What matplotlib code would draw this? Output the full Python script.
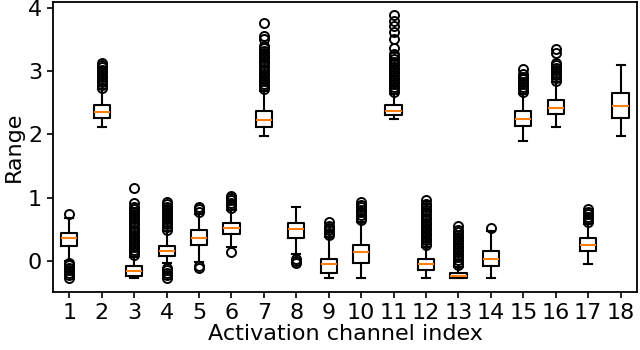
import matplotlib
matplotlib.use("Agg")
import matplotlib.pyplot as plt
from matplotlib import font_manager

channels = list(range(1, 19))

q1 = [0.24, 2.26, -0.23, 0.08, 0.26, 0.43, 2.11, 0.37, -0.18, -0.03,
      2.31, -0.14, -0.27, -0.08, 2.14, 2.32, 0.16, 2.26]
med = [0.37, 2.35, -0.15, 0.16, 0.37, 0.52, 2.23, 0.51, -0.05, 0.15,
       2.37, -0.05, -0.24, 0.03, 2.25, 2.41, 0.26, 2.45]
q3 = [0.45, 2.47, -0.07, 0.24, 0.49, 0.61, 2.37, 0.61, 0.04, 0.25,
      2.47, 0.03, -0.18, 0.16, 2.37, 2.54, 0.37, 2.66]
whislo = [0.0, 2.11, -0.27, -0.03, -0.01, 0.22, 1.97, 0.12, -0.27, -0.27,
          2.24, -0.27, -0.27, -0.27, 1.90, 2.11, -0.04, 1.97]
whishi = [0.68, 2.72, 0.07, 0.47, 0.75, 0.81, 2.69, 0.85, 0.38, 0.62,
          2.64, 0.22, -0.09, 0.47, 2.64, 2.82, 0.59, 3.10]

fliers = [
    [0.75, -0.02, -0.06, -0.10, -0.14, -0.18, -0.22, -0.26],
    [2.74, 2.78, 2.82, 2.86, 2.90, 2.94, 2.98, 3.02, 3.06, 3.10, 3.13],
    [0.10, 0.14, 0.18, 0.22, 0.26, 0.30, 0.34, 0.38, 0.42, 0.46, 0.50,
     0.54, 0.58, 0.62, 0.66, 0.70, 0.74, 0.78, 0.82, 0.86, 0.92, 1.15],
    [0.50, 0.54, 0.58, 0.62, 0.66, 0.70, 0.74, 0.78, 0.82, 0.86, 0.90,
     0.93, -0.10, -0.14, -0.18, -0.22, -0.26],
    [0.78, 0.82, 0.85, -0.07, -0.10],
    [0.84, 0.88, 0.92, 0.96, 1.00, 1.03, 0.15],
    [2.72, 2.76, 2.80, 2.84, 2.88, 2.92, 2.96, 3.00, 3.04, 3.08, 3.12,
     3.16, 3.20, 3.24, 3.28, 3.32, 3.36, 3.40, 3.50, 3.55, 3.76],
    [0.04, 0.00, -0.03],
    [0.41, 0.45, 0.49, 0.53, 0.56, 0.62],
    [0.65, 0.69, 0.73, 0.77, 0.81, 0.85, 0.89, 0.93],
    [2.67, 2.71, 2.75, 2.79, 2.83, 2.87, 2.91, 2.95, 2.99, 3.03, 3.07,
     3.11, 3.15, 3.19, 3.23, 3.27, 3.37, 3.50, 3.62, 3.71, 3.79, 3.88],
    [0.25, 0.29, 0.33, 0.37, 0.41, 0.45, 0.49, 0.53, 0.57, 0.61, 0.65,
     0.69, 0.73, 0.77, 0.81, 0.85, 0.89, 0.91, 0.97],
    [-0.06, -0.02, 0.02, 0.06, 0.10, 0.14, 0.18, 0.22, 0.26, 0.30, 0.34,
     0.38, 0.42, 0.46, 0.49, 0.55],
    [0.53],
    [2.67, 2.71, 2.75, 2.79, 2.83, 2.87, 2.91, 2.95, 3.04],
    [2.85, 2.89, 2.93, 2.97, 3.01, 3.05, 3.09, 3.13, 3.29, 3.34],
    [0.62, 0.66, 0.70, 0.74, 0.78, 0.82],
    [],
]

# narrow-looking text like the reference
names = {f.name for f in font_manager.fontManager.ttflist}
family = ["DejaVu Sans"]
for cand in ["DejaVu Sans Condensed", "Liberation Sans Narrow"]:
    if cand in names:
        family = [cand, "DejaVu Sans"]
        break
plt.rcParams["font.family"] = family

stats = []
for i in range(len(channels)):
    stats.append({
        "med": med[i], "q1": q1[i], "q3": q3[i],
        "whislo": whislo[i], "whishi": whishi[i],
        "fliers": fliers[i],
    })

fig = plt.figure(figsize=(6.4, 3.5), dpi=100)
ax = fig.add_axes([0.083, 0.167, 0.912, 0.827])

lw = 1.5
ax.bxp(stats, positions=channels, widths=0.5,
       boxprops=dict(linewidth=lw),
       whiskerprops=dict(linewidth=lw),
       capprops=dict(linewidth=lw),
       medianprops=dict(linewidth=lw, color="#ff7f0e"),
       flierprops=dict(marker="o", markerfacecolor="none",
                       markeredgecolor="black", markersize=6.5,
                       markeredgewidth=1.4))

for s in ax.spines.values():
    s.set_linewidth(1.3)

ax.set_xticks(channels)
ax.set_xticklabels([str(c) for c in channels])
ax.set_yticks([0, 1, 2, 3, 4])
ax.tick_params(labelsize=16, width=1.2, length=4, pad=4)
ax.set_xlabel("Activation channel index", fontsize=16, labelpad=1)
ax.set_ylabel("Range", fontsize=16, labelpad=3)

fig.savefig("out.png", dpi=100)
